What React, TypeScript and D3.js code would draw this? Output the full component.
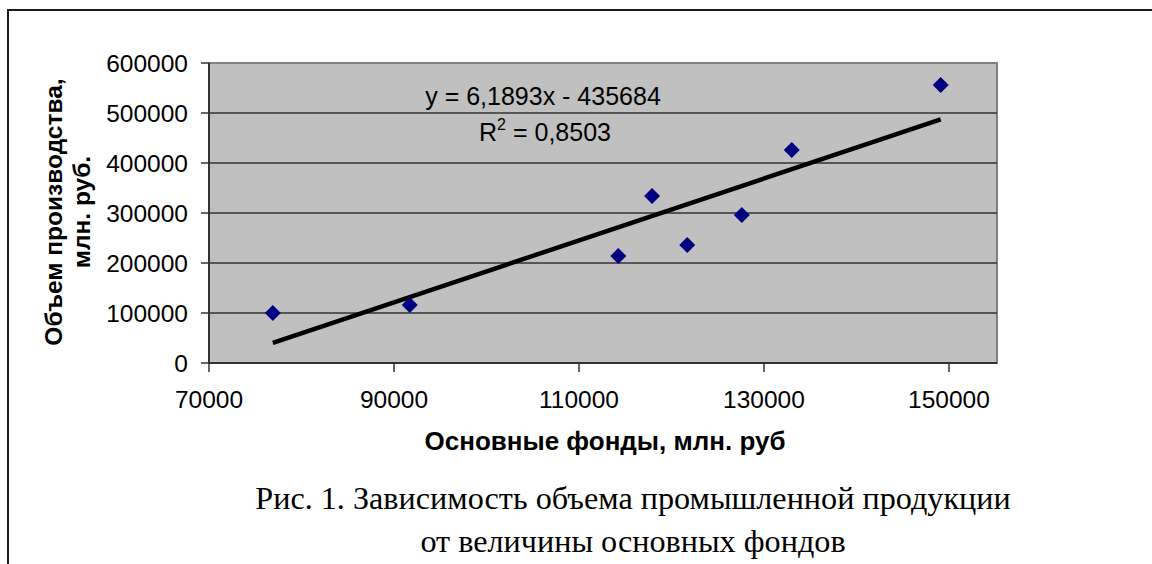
import * as d3 from "d3";
import React, { Component } from "react";

// основные фонды, млн. руб
const fixedAssets: number[] = [76900, 91700, 114250, 117900, 121700, 127600, 133000, 149100];
// объем производства, млн. руб.
const output: number[] = [100000, 116000, 214000, 334000, 236000, 296000, 426000, 556000];

const xTicks: number[] = [70000, 90000, 110000, 130000, 150000];
const yTicks: number[] = [0, 100000, 200000, 300000, 400000, 500000, 600000];

// linear trend as printed on the chart
const trendSlope = 6.1893;
const trendIntercept = -435684;
const trendLabel = "y = 6,1893x - 435684";
const r2Value = "0,8503";

const captionLines: string[] = [
    "Рис. 1. Зависимость объема промышленной продукции",
    "от величины основных фондов",
];

class ScatterChart extends Component<{}, {}> {
    private ref!: SVGSVGElement;

    drawChart() {
        const svg = d3.select(this.ref);
        const font = "Arial, 'Liberation Sans', sans-serif";

        // plot area
        const left = 209, top = 63, bottom = 363, right = 997;
        const x = d3.scaleLinear().domain([70000, 150000]).range([left, 949]);
        const y = d3.scaleLinear().domain([0, 600000]).range([bottom, top]);

        // outer frame
        svg.append("path")
            .attr("d", "M8,564 L8,10 L1152,10")
            .attr("fill", "none")
            .attr("stroke", "#1a1a1a")
            .attr("stroke-width", 2);

        svg.append("rect")
            .attr("x", left).attr("y", top)
            .attr("width", right - left).attr("height", bottom - top)
            .attr("fill", "#c0c0c0")
            .attr("stroke", "#808080")
            .attr("stroke-width", 2);

        // gridlines
        svg.append("g").selectAll("line")
            .data(yTicks.filter(t => t > 0 && t < 600000))
            .enter().append("line")
            .attr("x1", left).attr("x2", right)
            .attr("y1", d => y(d)).attr("y2", d => y(d))
            .attr("stroke", "#333")
            .attr("stroke-width", 1.5);

        // axes lines
        svg.append("line")
            .attr("x1", left).attr("x2", left).attr("y1", top).attr("y2", bottom)
            .attr("stroke", "#333").attr("stroke-width", 2);
        svg.append("line")
            .attr("x1", left).attr("x2", right).attr("y1", bottom).attr("y2", bottom)
            .attr("stroke", "#333").attr("stroke-width", 2);

        // y ticks
        const yAxis = svg.append("g");
        yAxis.selectAll("line")
            .data(yTicks).enter().append("line")
            .attr("x1", left - 8).attr("x2", left)
            .attr("y1", d => y(d)).attr("y2", d => y(d))
            .attr("stroke", "#333").attr("stroke-width", 1.5);
        yAxis.selectAll("text")
            .data(yTicks).enter().append("text")
            .attr("x", 188)
            .attr("y", d => y(d) + 9)
            .attr("text-anchor", "end")
            .style("font-family", font)
            .style("font-size", "24.5px")
            .text(d => String(d));

        // x ticks
        const xAxis = svg.append("g");
        xAxis.selectAll("line")
            .data(xTicks).enter().append("line")
            .attr("x1", d => x(d)).attr("x2", d => x(d))
            .attr("y1", bottom).attr("y2", bottom + 9)
            .attr("stroke", "#333").attr("stroke-width", 1.5);
        xAxis.selectAll("text")
            .data(xTicks).enter().append("text")
            .attr("x", d => x(d))
            .attr("y", 408)
            .attr("text-anchor", "middle")
            .style("font-family", font)
            .style("font-size", "24.5px")
            .text(d => String(d));

        // trend line
        const xMin = d3.min(fixedAssets)!, xMax = d3.max(fixedAssets)!;
        svg.append("line")
            .attr("x1", x(xMin)).attr("y1", y(trendSlope * xMin + trendIntercept))
            .attr("x2", x(xMax)).attr("y2", y(trendSlope * xMax + trendIntercept))
            .attr("stroke", "#000")
            .attr("stroke-width", 4.5);

        // points
        const pts = fixedAssets.map((v, i) => [v, output[i]]);
        svg.append("g").selectAll("path")
            .data(pts).enter().append("path")
            .attr("transform", d => "translate(" + x(d[0]) + "," + y(d[1]) + ")")
            .attr("d", "M0,-8 L8,0 L0,8 L-8,0 Z")
            .attr("fill", "#000080");

        // equation
        svg.append("text")
            .attr("x", 543).attr("y", 105)
            .attr("text-anchor", "middle")
            .style("font-family", font)
            .style("font-size", "25px")
            .text(trendLabel);
        const r2 = svg.append("text")
            .attr("x", 545).attr("y", 141)
            .attr("text-anchor", "middle")
            .style("font-family", font)
            .style("font-size", "25px");
        r2.append("tspan").text("R");
        r2.append("tspan").attr("dy", -11).style("font-size", "16px").text("2");
        r2.append("tspan").attr("dy", 11).text(" = " + r2Value);

        // axis titles
        svg.append("text")
            .attr("x", 605).attr("y", 450)
            .attr("text-anchor", "middle")
            .style("font-family", font)
            .style("font-size", "26px")
            .style("font-weight", "bold")
            .text("Основные фонды, млн. руб");

        const yt = svg.append("text")
            .attr("transform", "translate(62,212) rotate(-90)")
            .attr("text-anchor", "middle")
            .style("font-family", font)
            .style("font-size", "24.5px")
            .style("font-weight", "bold");
        yt.append("tspan").attr("x", 0).attr("y", 0).text("Объем производства,");
        yt.append("tspan").attr("x", 0).attr("y", 28).text("млн. руб.");

        // caption
        svg.append("g").selectAll("text")
            .data(captionLines).enter().append("text")
            .attr("x", 633)
            .attr("y", (d, i) => 509 + i * 43)
            .attr("text-anchor", "middle")
            .style("font-family", "'Liberation Serif', 'Times New Roman', serif")
            .style("font-size", "32.2px")
            .text(d => d);
    }

    componentDidMount() {
        this.drawChart();
    }

    render() {
        return (
            <svg ref={(ref: SVGSVGElement) => this.ref = ref} width="1152" height="564"
                style={{ position: "absolute", left: 0, top: 0, background: "#fff" }}></svg>
        );
    }
}

export default function App() {
    return <ScatterChart />;
}
